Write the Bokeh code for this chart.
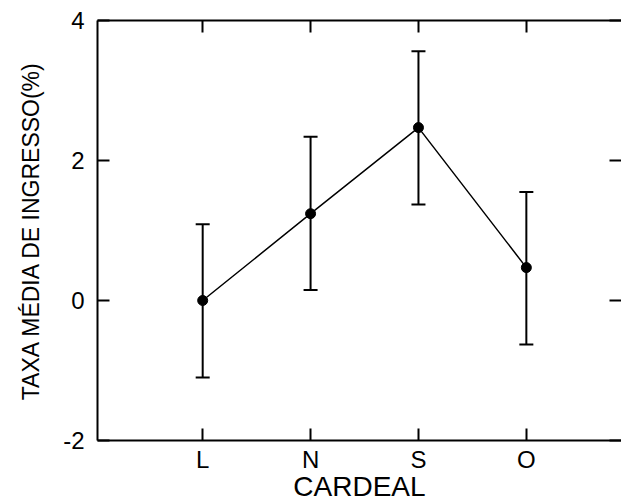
from bokeh.plotting import figure
from bokeh.models import (ColumnDataSource, Range1d, LinearAxis, FixedTicker,
                          Whisker, TeeHead)
from bokeh.embed import file_html
from bokeh.resources import INLINE

# ---- data ----
categories = ["L", "N", "S", "O"]
positions = [1, 2, 3, 4]
means = [0.0, 1.24, 2.47, 0.47]
lower = [-1.10, 0.15, 1.37, -0.63]
upper = [1.09, 2.34, 3.56, 1.55]
y_ticks = [-2, 0, 2, 4]
y_tick_labels = ["-2", "0", "2", "4"]

y_title = "TAXA MÉDIA DE INGRESSO(%)"
x_title = "CARDEAL"

src = ColumnDataSource(dict(x=positions, mean=means, lower=lower, upper=upper))

p = figure(width=621, height=504,
           x_range=Range1d(0.025, 4.882), y_range=Range1d(-2, 4),
           toolbar_location=None, output_backend="svg",
           x_axis_location=None, y_axis_location=None,
           min_border_left=97, min_border_top=20, min_border_right=0,
           min_border_bottom=64)
p.outline_line_color = None
p.xgrid.visible = False
p.ygrid.visible = False
p.background_fill_color = "white"
p.border_fill_color = "white"

FONT = "Liberation Sans"

def style(ax):
    ax.axis_line_width = 2
    ax.axis_line_color = "black"
    ax.major_tick_in = 12
    ax.major_tick_out = 0
    ax.major_tick_line_width = 2
    ax.major_tick_line_color = "black"
    ax.minor_tick_line_color = None
    ax.major_label_text_font = FONT
    ax.major_label_text_font_size = "24px"
    ax.major_label_text_color = "black"
    ax.axis_label_text_color = "black"

bottom = LinearAxis(ticker=FixedTicker(ticks=positions))
style(bottom)
bottom.major_label_overrides = {pos: c for pos, c in zip(positions, categories)}
bottom.major_label_standoff = 5
bottom.axis_label = x_title
bottom.axis_label_text_font = FONT
bottom.axis_label_text_font_size = "28px"
bottom.axis_label_text_font_style = "normal"
bottom.axis_label_standoff = -5
p.add_layout(bottom, "below")

top = LinearAxis(ticker=FixedTicker(ticks=positions))
style(top)
top.major_label_overrides = {pos: "" for pos in positions}
top.major_label_standoff = 0
p.add_layout(top, "above")

left = LinearAxis(ticker=FixedTicker(ticks=y_ticks))
style(left)
left.major_label_overrides = {t: s for t, s in zip(y_ticks, y_tick_labels)}
left.major_label_standoff = 13
left.axis_label = y_title
left.axis_label_text_font = FONT
left.axis_label_text_font_size = "23px"
left.axis_label_text_font_style = "normal"
left.axis_label_standoff = 16
p.add_layout(left, "left")

right = LinearAxis(ticker=FixedTicker(ticks=y_ticks))
style(right)
right.axis_line_color = None
right.major_label_overrides = {t: "" for t in y_ticks}
right.major_label_standoff = 0
p.add_layout(right, "right")

# error bars
w = Whisker(source=src, base="x", lower="lower", upper="upper",
            line_width=2, line_color="black",
            upper_head=TeeHead(size=14, line_width=2, line_color="black"),
            lower_head=TeeHead(size=14, line_width=2, line_color="black"))
p.add_layout(w)

p.line("x", "mean", source=src, line_width=1.5, line_color="black")
p.scatter("x", "mean", source=src, size=10, marker="circle",
          fill_color="black", line_color="black")

open("out.html", "w").write(file_html(p, INLINE))
